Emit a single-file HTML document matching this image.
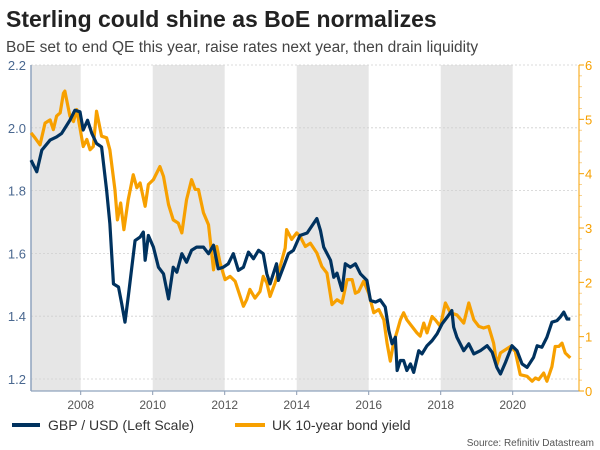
<!DOCTYPE html>
<html><head><meta charset="utf-8"><style>
body{margin:0;background:#fff;width:600px;height:450px;overflow:hidden;font-family:"Liberation Sans",sans-serif;}
svg{display:block}
</style></head><body>
<svg id="chart" width="600" height="450">
<text x="6" y="27" font-size="23" font-weight="bold" fill="#222">Sterling could shine as BoE normalizes</text>
<text x="6" y="52" font-size="15.5" fill="#444">BoE set to end QE this year, raise rates next year, then drain liquidity</text>
<g id="bands"></g><g id="grid"></g><g id="axes"></g><g id="series"></g>
<g>
<rect x="12" y="423" width="28" height="4" fill="#00325f"/>
<text x="48" y="430" font-size="14" fill="#333">GBP / USD (Left Scale)</text>
<rect x="235" y="423" width="30" height="4" fill="#f7a000"/>
<text x="272" y="430" font-size="14" fill="#333">UK 10-year bond yield</text>
</g>
<text x="594" y="446" font-size="10" fill="#555" text-anchor="end">Source: Refinitiv Datastream</text>
</svg>
<script>
const gbpYears=[2006.62,2006.78,2006.92,2007.15,2007.33,2007.47,2007.70,2007.84,2007.98,2008.07,2008.19,2008.31,2008.44,2008.58,2008.72,2008.81,2008.91,2009.05,2009.14,2009.23,2009.32,2009.42,2009.51,2009.65,2009.74,2009.79,2009.88,2010.02,2010.16,2010.30,2010.44,2010.57,2010.67,2010.81,2010.94,2011.08,2011.22,2011.41,2011.55,2011.69,2011.82,2011.96,2012.10,2012.24,2012.38,2012.52,2012.66,2012.80,2012.94,2013.07,2013.17,2013.26,2013.44,2013.49,2013.63,2013.77,2013.91,2014.09,2014.29,2014.43,2014.56,2014.66,2014.75,2014.94,2015.03,2015.12,2015.26,2015.35,2015.49,2015.63,2015.77,2015.95,2016.05,2016.19,2016.32,2016.46,2016.56,2016.65,2016.74,2016.79,2016.88,2016.97,2017.06,2017.16,2017.25,2017.39,2017.48,2017.62,2017.76,2017.90,2018.04,2018.18,2018.31,2018.36,2018.45,2018.64,2018.78,2018.92,2019.10,2019.29,2019.43,2019.56,2019.66,2019.80,2019.98,2020.12,2020.26,2020.40,2020.58,2020.68,2020.81,2020.95,2021.09,2021.23,2021.32,2021.42,2021.51,2021.60];
const gbpValues=[1.897,1.860,1.929,1.961,1.971,1.982,2.024,2.056,2.051,1.993,2.024,1.982,1.950,1.939,1.801,1.695,1.503,1.493,1.439,1.381,1.461,1.556,1.641,1.652,1.668,1.578,1.657,1.620,1.556,1.535,1.455,1.556,1.540,1.599,1.572,1.610,1.620,1.620,1.599,1.626,1.551,1.556,1.567,1.599,1.546,1.556,1.604,1.583,1.610,1.599,1.535,1.503,1.567,1.514,1.556,1.599,1.610,1.657,1.665,1.689,1.711,1.673,1.620,1.578,1.524,1.537,1.482,1.567,1.556,1.567,1.535,1.514,1.450,1.445,1.452,1.429,1.354,1.312,1.333,1.227,1.259,1.259,1.227,1.248,1.221,1.290,1.280,1.306,1.322,1.344,1.376,1.397,1.418,1.365,1.333,1.290,1.312,1.280,1.290,1.306,1.285,1.237,1.216,1.253,1.306,1.290,1.248,1.237,1.269,1.306,1.301,1.333,1.381,1.386,1.397,1.413,1.391,1.391];
const yldYears=[2006.62,2006.73,2006.87,2007.01,2007.15,2007.24,2007.33,2007.43,2007.52,2007.56,2007.70,2007.80,2007.89,2007.98,2008.07,2008.17,2008.26,2008.35,2008.44,2008.58,2008.72,2008.81,2008.95,2009.02,2009.11,2009.20,2009.32,2009.46,2009.56,2009.65,2009.79,2009.88,2010.02,2010.20,2010.30,2010.44,2010.57,2010.71,2010.81,2010.94,2011.08,2011.18,2011.27,2011.41,2011.55,2011.69,2011.78,2011.87,2012.01,2012.15,2012.29,2012.43,2012.52,2012.61,2012.70,2012.84,2012.98,2013.07,2013.17,2013.26,2013.40,2013.54,2013.68,2013.72,2013.86,2014.00,2014.09,2014.24,2014.38,2014.56,2014.70,2014.84,2014.98,2015.12,2015.26,2015.40,2015.54,2015.63,2015.72,2015.86,2016.00,2016.14,2016.28,2016.42,2016.51,2016.60,2016.69,2016.79,2016.88,2016.97,2017.06,2017.20,2017.34,2017.43,2017.53,2017.62,2017.76,2017.85,2017.99,2018.13,2018.27,2018.45,2018.64,2018.78,2018.92,2019.06,2019.19,2019.33,2019.47,2019.56,2019.66,2019.80,2019.94,2020.07,2020.21,2020.40,2020.54,2020.63,2020.72,2020.86,2020.95,2021.09,2021.18,2021.28,2021.37,2021.46,2021.60];
const yldValues=[4.75,4.66,4.53,4.93,4.99,4.81,5.06,5.12,5.48,5.52,5.06,4.96,5.18,4.84,4.50,4.63,4.44,4.50,5.15,4.69,4.66,4.44,3.71,3.15,3.46,2.97,3.52,3.98,3.74,3.83,3.40,3.80,3.89,4.13,3.95,3.43,3.15,3.09,2.91,3.52,3.89,3.71,3.71,3.28,3.06,2.23,2.66,2.36,2.05,2.11,2.02,1.74,1.56,1.68,1.87,1.71,1.83,2.11,1.99,1.74,1.99,2.29,2.63,2.97,2.79,2.91,2.85,2.66,2.72,2.54,2.29,2.17,1.59,1.68,1.62,2.05,2.05,1.80,1.83,2.02,1.80,1.44,1.50,1.31,0.88,0.55,0.88,1.10,1.31,1.44,1.31,1.19,1.07,1.01,1.25,1.07,1.37,1.31,1.19,1.62,1.44,1.40,1.25,1.62,1.31,1.19,1.16,1.19,0.88,0.48,0.70,0.76,0.82,0.73,0.30,0.27,0.18,0.24,0.21,0.33,0.18,0.45,0.82,0.82,0.88,0.70,0.61];
const leftTicks=[1.2,1.4,1.6,1.8,2.0,2.2];
const rightTicks=[0,1,2,3,4,5,6];
const xTickYears=[2008,2010,2012,2014,2016,2018,2020];
const shadedBands=[[2006.62,2008],[2010,2012],[2014,2016],[2018,2020]];

const NS="http://www.w3.org/2000/svg";
const PL=31,PR=579,PT=65,PB=391;
const xs=y=>80.7+36*(y-2008);
const yl=v=>379-(v-1.2)*314;
const yr=v=>PB-v*(PB-PT)/6;
function mk(tag,parent,attrs){const e=document.createElementNS(NS,tag);for(const k in attrs)e.setAttribute(k,attrs[k]);parent.appendChild(e);return e;}
const bands=document.getElementById('bands'),grid=document.getElementById('grid'),axes=document.getElementById('axes'),series=document.getElementById('series');
shadedBands.forEach(b=>{const r=mk('rect',bands,{x:xs(b[0]),y:PT,width:xs(b[1])-xs(b[0]),height:PB-PT,fill:'#e6e6e6'});

});
leftTicks.forEach(v=>{const l=mk('line',grid,{x1:PL,x2:PR,y1:yl(v),y2:yl(v),stroke:'#cfcfcf','stroke-dasharray':'2,2','stroke-width':0.8});


const t=mk('text',axes,{x:26,y:yl(v)+5,'font-size':13,fill:'#4a6890','text-anchor':'end'});t.textContent=v.toFixed(1);

});
rightTicks.forEach(v=>{const t=mk('text',axes,{x:585,y:yr(v)+5,'font-size':13,fill:'#f7a000'});t.textContent=v;


mk('line',axes,{x1:PR,x2:PR+5,y1:yr(v),y2:yr(v),stroke:'#f7a000'});
if(v<6)for(let k=1;k<5;k++)mk('line',axes,{x1:PR,x2:PR+3,y1:yr(v+k/5),y2:yr(v+k/5),stroke:'#f7c060','stroke-width':0.7});});
xTickYears.forEach(y=>{const t=mk('text',axes,{x:xs(y),y:409,'font-size':12,fill:'#555','text-anchor':'middle'});t.textContent=y;


mk('line',axes,{x1:xs(y),x2:xs(y),y1:PB,y2:PB+4,stroke:'#8a9ab0'});});
const la=mk('line',axes,{x1:PL,x2:PL,y1:PT,y2:PB,stroke:'#8fa3bd','stroke-width':1.5});


const ba=mk('line',axes,{x1:PL,x2:PR,y1:PB,y2:PB,stroke:'#8fa3bd','stroke-width':1.2});


const ra=mk('line',axes,{x1:PR,x2:PR,y1:PT,y2:PB,stroke:'#f7a000','stroke-width':1});


const yp=mk('polyline',series,{points:yldYears.map((y,i)=>xs(y)+','+yr(yldValues[i])).join(' '),fill:'none',stroke:'#f7a000','stroke-width':3.2,'stroke-linejoin':'round'});


const gp=mk('polyline',series,{points:gbpYears.map((y,i)=>xs(y)+','+yl(gbpValues[i])).join(' '),fill:'none',stroke:'#00325f','stroke-width':3.2,'stroke-linejoin':'round'});


</script>
</body></html>
